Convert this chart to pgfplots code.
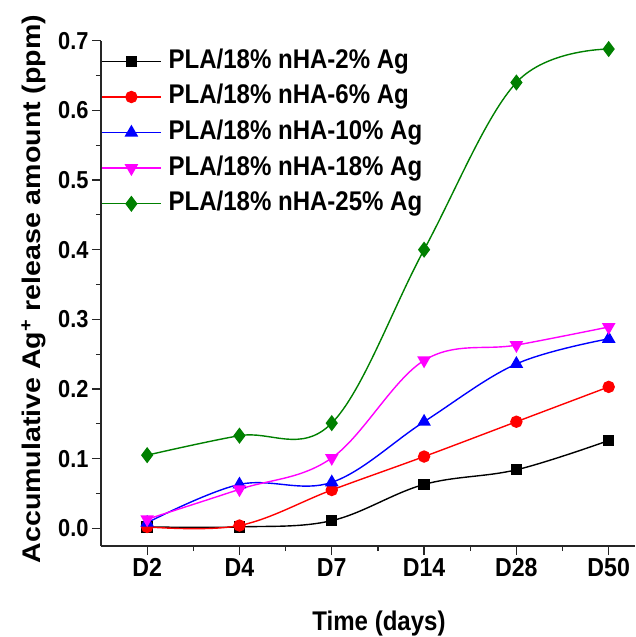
\documentclass[border=0pt]{standalone}
\usepackage{pgfplots}
\pgfplotsset{compat=1.18}
\usepackage{fontspec}
\setmainfont{Liberation Sans}
\newfontfamily\hfont{Liberation Sans}[FakeStretch=0.89]
\newfontfamily\vfont{Liberation Sans}[FakeStretch=1.12]
\definecolor{cgreen}{RGB}{0,128,0}
\definecolor{cred}{RGB}{255,0,0}
\definecolor{cblue}{RGB}{0,0,255}
\definecolor{cmag}{RGB}{255,0,255}
\begin{document}
\begin{tikzpicture}
\begin{axis}[
  at={(0,0)}, anchor=south west,
  scale only axis, width=534pt, height=505.3pt,
  xmin=-0.5, xmax=5.285, ymin=-0.0254, ymax=0.7,
  axis lines*=left,
  axis line style={line width=1.4pt, black!85},
  xtick={0,1,2,3,4,5},
  xticklabels={D2,D4,D7,D14,D28,D50},
  minor xtick={0.5,1.5,2.5,3.5,4.5},
  ytick={0,0.1,0.2,0.3,0.4,0.5,0.6,0.7},
  minor ytick={0.05,0.15,0.25,0.35,0.45,0.55,0.65},
  tick align=outside,
  major tick length=9pt, minor tick length=5pt,
  every tick/.style={line width=1.2pt, black!85},
  yticklabel style={/pgf/number format/.cd, fixed, fixed zerofill, precision=1, assume math mode=true, /tikz/.cd, font=\hfont\bfseries\fontsize{24.5}{24.5}\selectfont},
  xticklabel style={font=\hfont\bfseries\fontsize{26}{26}\selectfont},
  xlabel={Time (days)},
  xlabel style={at={(axis description cs:0.5206,-0.1682)}, anchor=base, font=\hfont\bfseries\fontsize{27}{27}\selectfont},
  ylabel={Accumulative Ag\textsuperscript{+} release amount (ppm)},
  ylabel style={at={(axis description cs:-0.1124,0.5086)}, anchor=base, font=\vfont\bfseries\fontsize{25.5}{25.5}\selectfont},
  legend style={at={(axis description cs:0,1)}, anchor=north west, yshift=-8pt, draw=none, fill=none, inner xsep=0pt, inner ysep=0pt,
    font=\hfont\bfseries\fontsize{27}{27}\selectfont, row sep=10.6pt,
    nodes={inner xsep=0pt, inner ysep=0pt, text height=19.5pt, text depth=5.5pt},
    /tikz/every odd column/.append style={column sep=7pt}},
  legend cell align=left,
  legend image code/.code={\draw[mark repeat=2, mark phase=2, #1] plot coordinates {(0pt,0pt) (29.5pt,0pt) (59pt,0pt)};},
  every axis plot/.append style={line width=1.4pt, smooth, tension=0.6},
]
\addplot[black, mark=square*, mark size=5pt, mark options={solid}] coordinates {
(0,0.002) (1,0.002) (2,0.011) (3,0.063) (4,0.084) (5,0.126)};
\addlegendentry{PLA/18\% nHA-2\% Ag}
\addplot[cred, mark=*, mark size=5.5pt, mark options={solid}] coordinates {
(0,0.002) (1,0.004) (2,0.055) (3,0.103) (4,0.153) (5,0.203)};
\addlegendentry{PLA/18\% nHA-6\% Ag}
\addplot[cblue, mark=triangle*, mark size=6.5pt, mark options={solid}] coordinates {
(0,0.008) (1,0.063) (2,0.066) (3,0.153) (4,0.236) (5,0.272)};
\addlegendentry{PLA/18\% nHA-10\% Ag}
\addplot[cmag, mark=triangle*, mark size=6.5pt, mark options={solid, rotate=180}] coordinates {
(0,0.013) (1,0.056) (2,0.101) (3,0.241) (4,0.263) (5,0.289)};
\addlegendentry{PLA/18\% nHA-18\% Ag}
\addplot[cgreen, mark=diamond*, mark size=7pt, mark options={solid}] coordinates {
(0,0.105) (1,0.133) (2,0.151) (3,0.400) (4,0.640) (5,0.688)};
\addlegendentry{PLA/18\% nHA-25\% Ag}
\end{axis}
\pgfresetboundingbox
\path[use as bounding box] (-101pt,-91pt) rectangle (534pt,546pt);
\end{tikzpicture}
\end{document}
